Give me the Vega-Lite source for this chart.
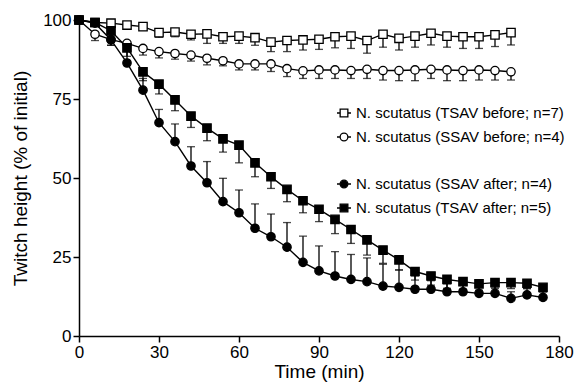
{
  "$schema": "https://vega.github.io/schema/vega-lite/v6.json",
  "width": 480,
  "height": 316,
  "autosize": {"type": "none"},
  "padding": {"left": 79, "top": 20, "right": 15, "bottom": 46},
  "config": {
    "font": "Liberation Sans",
    "view": {"stroke": null},
    "axis": {
      "domainColor": "black", "domainWidth": 1.5, "tickColor": "black", "tickWidth": 1.5, "tickSize": 6,
      "labelColor": "black", "labelFontSize": 17, "labelFont": "Liberation Sans", "labelPadding": 2,
      "titleFontSize": 19, "titleFontWeight": "normal", "titleColor": "black", "titleFont": "Liberation Sans",
      "grid": false
    },
    "legend": {
      "orient": "none", "labelFontSize": 15, "labelFont": "Liberation Sans", "labelColor": "black", "labelLimit": 400,
      "padding": 0, "rowPadding": 8, "symbolSize": 196, "symbolStrokeWidth": 1.3, "symbolOpacity": 1,
      "labelOffset": 4, "title": null
    }
  },
  "data": {"values": [
    {"s": "TSAV before", "t": 0, "v": 100, "e": 100},
    {"s": "TSAV before", "t": 6, "v": 99.2, "e": 99.0},
    {"s": "TSAV before", "t": 12, "v": 99.0, "e": 98.5},
    {"s": "TSAV before", "t": 18, "v": 98.4, "e": 97.8},
    {"s": "TSAV before", "t": 24, "v": 97.9, "e": 96.8},
    {"s": "TSAV before", "t": 30, "v": 96.0, "e": 94.5},
    {"s": "TSAV before", "t": 36, "v": 96.2, "e": 94.7},
    {"s": "TSAV before", "t": 42, "v": 95.5, "e": 93.7},
    {"s": "TSAV before", "t": 48, "v": 95.6, "e": 92.6},
    {"s": "TSAV before", "t": 54, "v": 94.7, "e": 92.6},
    {"s": "TSAV before", "t": 60, "v": 94.9, "e": 92.6},
    {"s": "TSAV before", "t": 66, "v": 94.4, "e": 92.0},
    {"s": "TSAV before", "t": 72, "v": 93.0, "e": 90.0},
    {"s": "TSAV before", "t": 78, "v": 93.5, "e": 90.0},
    {"s": "TSAV before", "t": 84, "v": 93.7, "e": 90.5},
    {"s": "TSAV before", "t": 90, "v": 93.9, "e": 90.7},
    {"s": "TSAV before", "t": 96, "v": 94.7, "e": 91.2},
    {"s": "TSAV before", "t": 102, "v": 94.9, "e": 91.0},
    {"s": "TSAV before", "t": 108, "v": 93.5, "e": 89.5},
    {"s": "TSAV before", "t": 114, "v": 95.5, "e": 91.4},
    {"s": "TSAV before", "t": 120, "v": 94.2, "e": 90.5},
    {"s": "TSAV before", "t": 126, "v": 94.9, "e": 91.4},
    {"s": "TSAV before", "t": 132, "v": 95.8, "e": 92.1},
    {"s": "TSAV before", "t": 138, "v": 94.9, "e": 91.4},
    {"s": "TSAV before", "t": 144, "v": 94.7, "e": 91.0},
    {"s": "TSAV before", "t": 150, "v": 94.7, "e": 91.0},
    {"s": "TSAV before", "t": 156, "v": 95.3, "e": 91.6},
    {"s": "TSAV before", "t": 162, "v": 96.0, "e": 92.1},
    {"s": "SSAV before", "t": 0, "v": 100, "e": 100},
    {"s": "SSAV before", "t": 6, "v": 95.5, "e": 93.5},
    {"s": "SSAV before", "t": 12, "v": 93.8, "e": 92.0},
    {"s": "SSAV before", "t": 18, "v": 92.6, "e": 90.8},
    {"s": "SSAV before", "t": 24, "v": 91.0, "e": 88.9},
    {"s": "SSAV before", "t": 30, "v": 90.0, "e": 88.0},
    {"s": "SSAV before", "t": 36, "v": 89.4, "e": 87.6},
    {"s": "SSAV before", "t": 42, "v": 88.9, "e": 87.0},
    {"s": "SSAV before", "t": 48, "v": 87.9, "e": 85.8},
    {"s": "SSAV before", "t": 54, "v": 87.1, "e": 85.5},
    {"s": "SSAV before", "t": 60, "v": 86.1, "e": 84.2},
    {"s": "SSAV before", "t": 66, "v": 86.1, "e": 84.2},
    {"s": "SSAV before", "t": 72, "v": 86.1, "e": 83.7},
    {"s": "SSAV before", "t": 78, "v": 84.6, "e": 82.1},
    {"s": "SSAV before", "t": 84, "v": 83.9, "e": 81.5},
    {"s": "SSAV before", "t": 90, "v": 84.2, "e": 81.5},
    {"s": "SSAV before", "t": 96, "v": 84.2, "e": 81.5},
    {"s": "SSAV before", "t": 102, "v": 84.0, "e": 81.5},
    {"s": "SSAV before", "t": 108, "v": 84.4, "e": 81.5},
    {"s": "SSAV before", "t": 114, "v": 84.0, "e": 81.0},
    {"s": "SSAV before", "t": 120, "v": 84.0, "e": 80.8},
    {"s": "SSAV before", "t": 126, "v": 84.2, "e": 80.8},
    {"s": "SSAV before", "t": 132, "v": 84.4, "e": 81.5},
    {"s": "SSAV before", "t": 138, "v": 84.2, "e": 80.8},
    {"s": "SSAV before", "t": 144, "v": 84.0, "e": 80.8},
    {"s": "SSAV before", "t": 150, "v": 84.2, "e": 81.0},
    {"s": "SSAV before", "t": 156, "v": 84.0, "e": 81.0},
    {"s": "SSAV before", "t": 162, "v": 83.6, "e": 81.0},
    {"s": "SSAV after", "t": 0, "v": 100, "e": 100},
    {"s": "SSAV after", "t": 6, "v": 99.0, "e": 99.5},
    {"s": "SSAV after", "t": 12, "v": 93.7, "e": 95.0},
    {"s": "SSAV after", "t": 18, "v": 86.4, "e": 90.5},
    {"s": "SSAV after", "t": 24, "v": 77.8, "e": 81.5},
    {"s": "SSAV after", "t": 30, "v": 67.5, "e": 71.7},
    {"s": "SSAV after", "t": 36, "v": 61.5, "e": 67.1},
    {"s": "SSAV after", "t": 42, "v": 53.8, "e": 59.9},
    {"s": "SSAV after", "t": 48, "v": 48.5, "e": 55.2},
    {"s": "SSAV after", "t": 54, "v": 42.5, "e": 49.9},
    {"s": "SSAV after", "t": 60, "v": 39.0, "e": 46.2},
    {"s": "SSAV after", "t": 66, "v": 34.1, "e": 41.8},
    {"s": "SSAV after", "t": 72, "v": 31.4, "e": 38.6},
    {"s": "SSAV after", "t": 78, "v": 28.1, "e": 35.9},
    {"s": "SSAV after", "t": 84, "v": 23.3, "e": 31.6},
    {"s": "SSAV after", "t": 90, "v": 20.6, "e": 28.5},
    {"s": "SSAV after", "t": 96, "v": 19.0, "e": 26.7},
    {"s": "SSAV after", "t": 102, "v": 17.9, "e": 25.8},
    {"s": "SSAV after", "t": 108, "v": 17.2, "e": 24.7},
    {"s": "SSAV after", "t": 114, "v": 15.8, "e": 22.7},
    {"s": "SSAV after", "t": 120, "v": 15.4, "e": 20.9},
    {"s": "SSAV after", "t": 126, "v": 14.8, "e": 19.0},
    {"s": "SSAV after", "t": 132, "v": 14.8, "e": 17.5},
    {"s": "SSAV after", "t": 138, "v": 14.0, "e": 16.5},
    {"s": "SSAV after", "t": 144, "v": 14.0, "e": 16.0},
    {"s": "SSAV after", "t": 150, "v": 13.5, "e": 16.0},
    {"s": "SSAV after", "t": 156, "v": 13.5, "e": 15.5},
    {"s": "SSAV after", "t": 162, "v": 11.9, "e": 14.0},
    {"s": "SSAV after", "t": 168, "v": 13.0, "e": 15.0},
    {"s": "SSAV after", "t": 174, "v": 12.2, "e": 14.0},
    {"s": "TSAV after", "t": 0, "v": 100, "e": 100},
    {"s": "TSAV after", "t": 6, "v": 99.2, "e": 98.5},
    {"s": "TSAV after", "t": 12, "v": 96.6, "e": 92.0},
    {"s": "TSAV after", "t": 18, "v": 91.2, "e": 88.5},
    {"s": "TSAV after", "t": 24, "v": 83.6, "e": 80.8},
    {"s": "TSAV after", "t": 30, "v": 79.7, "e": 76.6},
    {"s": "TSAV after", "t": 36, "v": 74.7, "e": 71.3},
    {"s": "TSAV after", "t": 42, "v": 69.6, "e": 66.0},
    {"s": "TSAV after", "t": 48, "v": 65.8, "e": 61.8},
    {"s": "TSAV after", "t": 54, "v": 62.4, "e": 58.2},
    {"s": "TSAV after", "t": 60, "v": 60.4, "e": 54.8},
    {"s": "TSAV after", "t": 66, "v": 54.8, "e": 50.4},
    {"s": "TSAV after", "t": 72, "v": 50.4, "e": 46.7},
    {"s": "TSAV after", "t": 78, "v": 46.4, "e": 42.5},
    {"s": "TSAV after", "t": 84, "v": 42.8, "e": 39.0},
    {"s": "TSAV after", "t": 90, "v": 40.1, "e": 36.2},
    {"s": "TSAV after", "t": 96, "v": 36.9, "e": 32.4},
    {"s": "TSAV after", "t": 102, "v": 33.7, "e": 29.3},
    {"s": "TSAV after", "t": 108, "v": 30.4, "e": 25.6},
    {"s": "TSAV after", "t": 114, "v": 27.2, "e": 23.0},
    {"s": "TSAV after", "t": 120, "v": 24.1, "e": 20.9},
    {"s": "TSAV after", "t": 126, "v": 20.4, "e": 17.7},
    {"s": "TSAV after", "t": 132, "v": 19.0, "e": 16.1},
    {"s": "TSAV after", "t": 138, "v": 17.9, "e": 15.1},
    {"s": "TSAV after", "t": 144, "v": 17.2, "e": 14.8},
    {"s": "TSAV after", "t": 150, "v": 16.5, "e": 14.5},
    {"s": "TSAV after", "t": 156, "v": 16.9, "e": 15.0},
    {"s": "TSAV after", "t": 162, "v": 16.9, "e": 15.0},
    {"s": "TSAV after", "t": 168, "v": 16.7, "e": 15.0},
    {"s": "TSAV after", "t": 174, "v": 15.4, "e": 14.0}
  ]},
  "layer": [
    {
      "transform": [{"filter": "datum.t == 0 && indexof(datum.s, 'before') >= 0"}],
      "mark": {"type": "point", "filled": false, "stroke": "black", "strokeWidth": 1.3},
      "encoding": {
        "x": {"field": "t", "type": "quantitative", "scale": {"domain": [0, 180], "nice": false},
              "axis": {"values": [0, 30, 60, 90, 120, 150, 180], "title": "Time (min)", "labelFlush": false, "titlePadding": 2, "titleFontWeight": "normal"}},
        "y": {"field": "v", "type": "quantitative", "scale": {"domain": [0, 100], "nice": false},
              "axis": {"values": [0, 25, 50, 75, 100], "title": "Twitch height (% of initial)", "titlePadding": 12, "titleFontWeight": "normal"}},
        "shape": {"field": "s", "type": "nominal",
                  "scale": {"domain": ["TSAV before", "SSAV before"],
                            "range": ["M-1,0L-0.55,0L-0.55,-0.55L0.55,-0.55L0.55,0L1,0L0.55,0L0.55,0.55L-0.55,0.55L-0.55,0Z", "M-1,0L-0.55,0A0.55,0.55,0,0,1,0.55,0L1,0L0.55,0A0.55,0.55,0,0,1,-0.55,0Z"]},
                  "legend": {"legendX": 257, "legendY": 85, "symbolOpacity": 1, "symbolStrokeWidth": 1.3,
                             "labelExpr": "datum.label == 'TSAV before' ? 'N. scutatus (TSAV before; n=7)' : 'N. scutatus (SSAV before; n=4)'"}}
      }
    },
    {
      "transform": [{"filter": "datum.t == 0 && indexof(datum.s, 'after') >= 0"}],
      "mark": {"type": "point", "filled": true, "fill": "black", "stroke": "black", "strokeWidth": 1.3},
      "encoding": {
        "x": {"field": "t", "type": "quantitative"},
        "y": {"field": "v", "type": "quantitative"},
        "shape": {"field": "s", "type": "nominal",
                  "scale": {"domain": ["SSAV after", "TSAV after"],
                            "range": ["M-1,0L-0.55,0A0.55,0.55,0,0,1,0.55,0L1,0L0.55,0A0.55,0.55,0,0,1,-0.55,0Z", "M-1,0L-0.55,0L-0.55,-0.55L0.55,-0.55L0.55,0L1,0L0.55,0L0.55,0.55L-0.55,0.55L-0.55,0Z"]},
                  "legend": {"legendX": 257, "legendY": 156, "symbolOpacity": 1, "symbolStrokeWidth": 1.3,
                             "labelExpr": "datum.label == 'SSAV after' ? 'N. scutatus (SSAV after; n=4)' : 'N. scutatus (TSAV after; n=5)'"}}
      }
    },
    {
      "mark": {"type": "rule", "color": "black", "strokeWidth": 1.3},
      "encoding": {
        "x": {"field": "t", "type": "quantitative"},
        "y": {"field": "v", "type": "quantitative"},
        "y2": {"field": "e"}
      }
    },
    {
      "mark": {"type": "tick", "orient": "horizontal", "color": "black", "thickness": 1.3, "size": 8},
      "encoding": {
        "x": {"field": "t", "type": "quantitative"},
        "y": {"field": "e", "type": "quantitative"}
      }
    },
    {
      "mark": {"type": "line", "color": "black", "strokeWidth": 1.4},
      "encoding": {
        "x": {"field": "t", "type": "quantitative"},
        "y": {"field": "v", "type": "quantitative"},
        "detail": {"field": "s"}
      }
    },
    {
      "mark": {"type": "point", "stroke": "black", "strokeWidth": 1.3, "size": 70, "opacity": 1},
      "encoding": {
        "x": {"field": "t", "type": "quantitative"},
        "y": {"field": "v", "type": "quantitative"},
        "shape": {"field": "s", "type": "nominal", "legend": null,
                  "scale": {"domain": ["TSAV before", "SSAV before", "SSAV after", "TSAV after"], "range": ["square", "circle", "circle", "square"]}},
        "fill": {"field": "s", "type": "nominal", "legend": null,
                 "scale": {"domain": ["TSAV before", "SSAV before", "SSAV after", "TSAV after"], "range": ["white", "white", "black", "black"]}}
      }
    }
  ],
  "resolve": {"scale": {"shape": "independent"}, "legend": {"shape": "independent"}}
}
